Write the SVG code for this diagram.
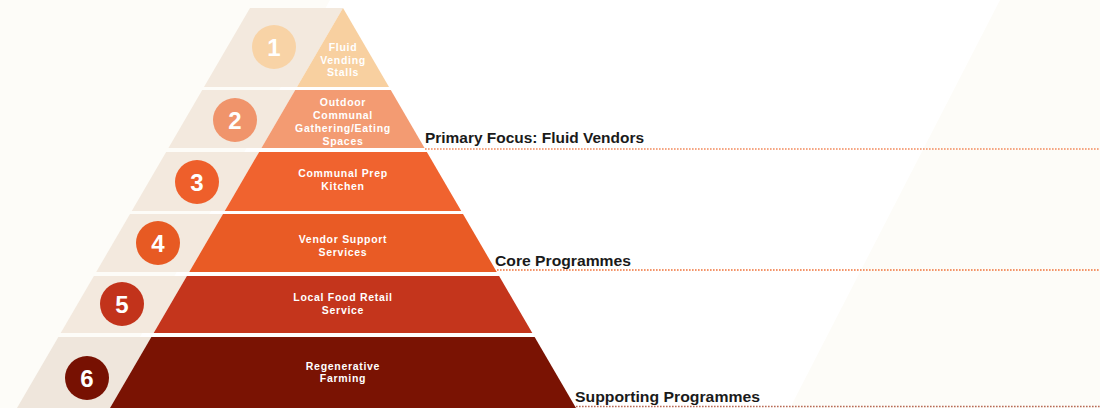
<svg xmlns="http://www.w3.org/2000/svg" width="1100" height="408" viewBox="0 0 1100 408">
  <style>
    .band { fill: #f3e9de; }
    .num { font-family: "Liberation Sans", Arial, sans-serif; font-size: 24px; font-weight: bold; fill: #ffffff; text-anchor: middle; }
    .tl { font-family: "Liberation Sans", Arial, sans-serif; font-size: 10.5px; font-weight: bold; fill: #ffffff; text-anchor: middle; letter-spacing: 0.7px; }
    .lab { font-family: "Liberation Sans", Arial, sans-serif; font-size: 15px; font-weight: bold; fill: #1a1a1a; }
    .dot { fill: none; stroke-width: 1.6; stroke-dasharray: 1.6 1.4; }
  </style>
  <rect x="0" y="0" width="1100" height="408" fill="#fdfcf8"/>
  <polygon points="330,0 1000,0 790,408 100,408" fill="#ffffff"/>

  <g id="tier1">
    <polygon class="band" points="250,8 343,8 296.98,87 203.98,87"/>
    <polygon points="343,8 389.02,87 296.98,87" fill="#f8d0a0"/>
    <circle cx="274" cy="47" r="22" fill="#f8d3a6"/>
    <text class="num" x="274" y="55.5">1</text>
    <text class="tl" x="343" y="51">Fluid</text>
    <text class="tl" x="343" y="64">Vending</text>
    <text class="tl" x="343" y="76">Stalls</text>
  </g>

  <g id="tier2">
    <polygon class="band" points="202.23,90 295.23,90 261.45,148 168.45,148"/>
    <polygon points="295.23,90 390.77,90 424.55,148 261.45,148" fill="#f39b72"/>
    <circle cx="235" cy="120" r="22" fill="#f0946b"/>
    <text class="num" x="235" y="128.5">2</text>
    <text class="tl" x="343" y="106">Outdoor</text>
    <text class="tl" x="343" y="119">Communal</text>
    <text class="tl" x="343" y="132">Gathering/Eating</text>
    <text class="tl" x="343" y="145">Spaces</text>
  </g>

  <g id="tier3">
    <polygon class="band" points="166.12,152 259.12,152 224.75,211 131.75,211"/>
    <polygon points="259.12,152 426.88,152 461.25,211 224.75,211" fill="#f0632f"/>
    <circle cx="197" cy="182" r="22" fill="#ee5f2b"/>
    <text class="num" x="197" y="190.5">3</text>
    <text class="tl" x="343" y="177">Communal Prep</text>
    <text class="tl" x="343" y="190">Kitchen</text>
  </g>

  <g id="tier4">
    <polygon class="band" points="130,214 223,214 189.22,272 96.22,272"/>
    <polygon points="223,214 463,214 496.78,272 189.22,272" fill="#e95b25"/>
    <circle cx="158" cy="243" r="22" fill="#e75a23"/>
    <text class="num" x="158" y="251.5">4</text>
    <text class="tl" x="343" y="243">Vendor Support</text>
    <text class="tl" x="343" y="256">Services</text>
  </g>

  <g id="tier5">
    <polygon class="band" points="93.89,276 186.89,276 153.69,333 60.69,333"/>
    <polygon points="186.89,276 499.11,276 532.31,333 153.69,333" fill="#c4351c"/>
    <circle cx="122" cy="304" r="22" fill="#c2331b"/>
    <text class="num" x="122" y="312.5">5</text>
    <text class="tl" x="343" y="301">Local Food Retail</text>
    <text class="tl" x="343" y="314">Service</text>
  </g>

  <g id="tier6">
    <polygon class="band" points="58.36,337 151.36,337 110,408 17,408" style="fill:#efe6dc"/>
    <polygon points="151.36,337 534.64,337 576,408 110,408" fill="#7a1303"/>
    <circle cx="87" cy="378" r="22" fill="#771102"/>
    <text class="num" x="87" y="386.5">6</text>
    <text class="tl" x="343" y="370">Regenerative</text>
    <text class="tl" x="343" y="382">Farming</text>
  </g>

  <g id="connectors">
    <line class="dot" x1="425" y1="149" x2="1100" y2="149" stroke="#f28a5c"/>
    <line class="dot" x1="497" y1="270" x2="1100" y2="270" stroke="#f0733a"/>
    <line class="dot" x1="576" y1="406.5" x2="1100" y2="406.5" stroke="#b86a55"/>
  </g>

  <g id="labels">
    <text class="lab" x="425" y="143" textLength="219" lengthAdjust="spacingAndGlyphs">Primary Focus: Fluid Vendors</text>
    <text class="lab" x="495" y="266" textLength="136" lengthAdjust="spacingAndGlyphs">Core Programmes</text>
    <text class="lab" x="575" y="402" textLength="185" lengthAdjust="spacingAndGlyphs">Supporting Programmes</text>
  </g>
</svg>
